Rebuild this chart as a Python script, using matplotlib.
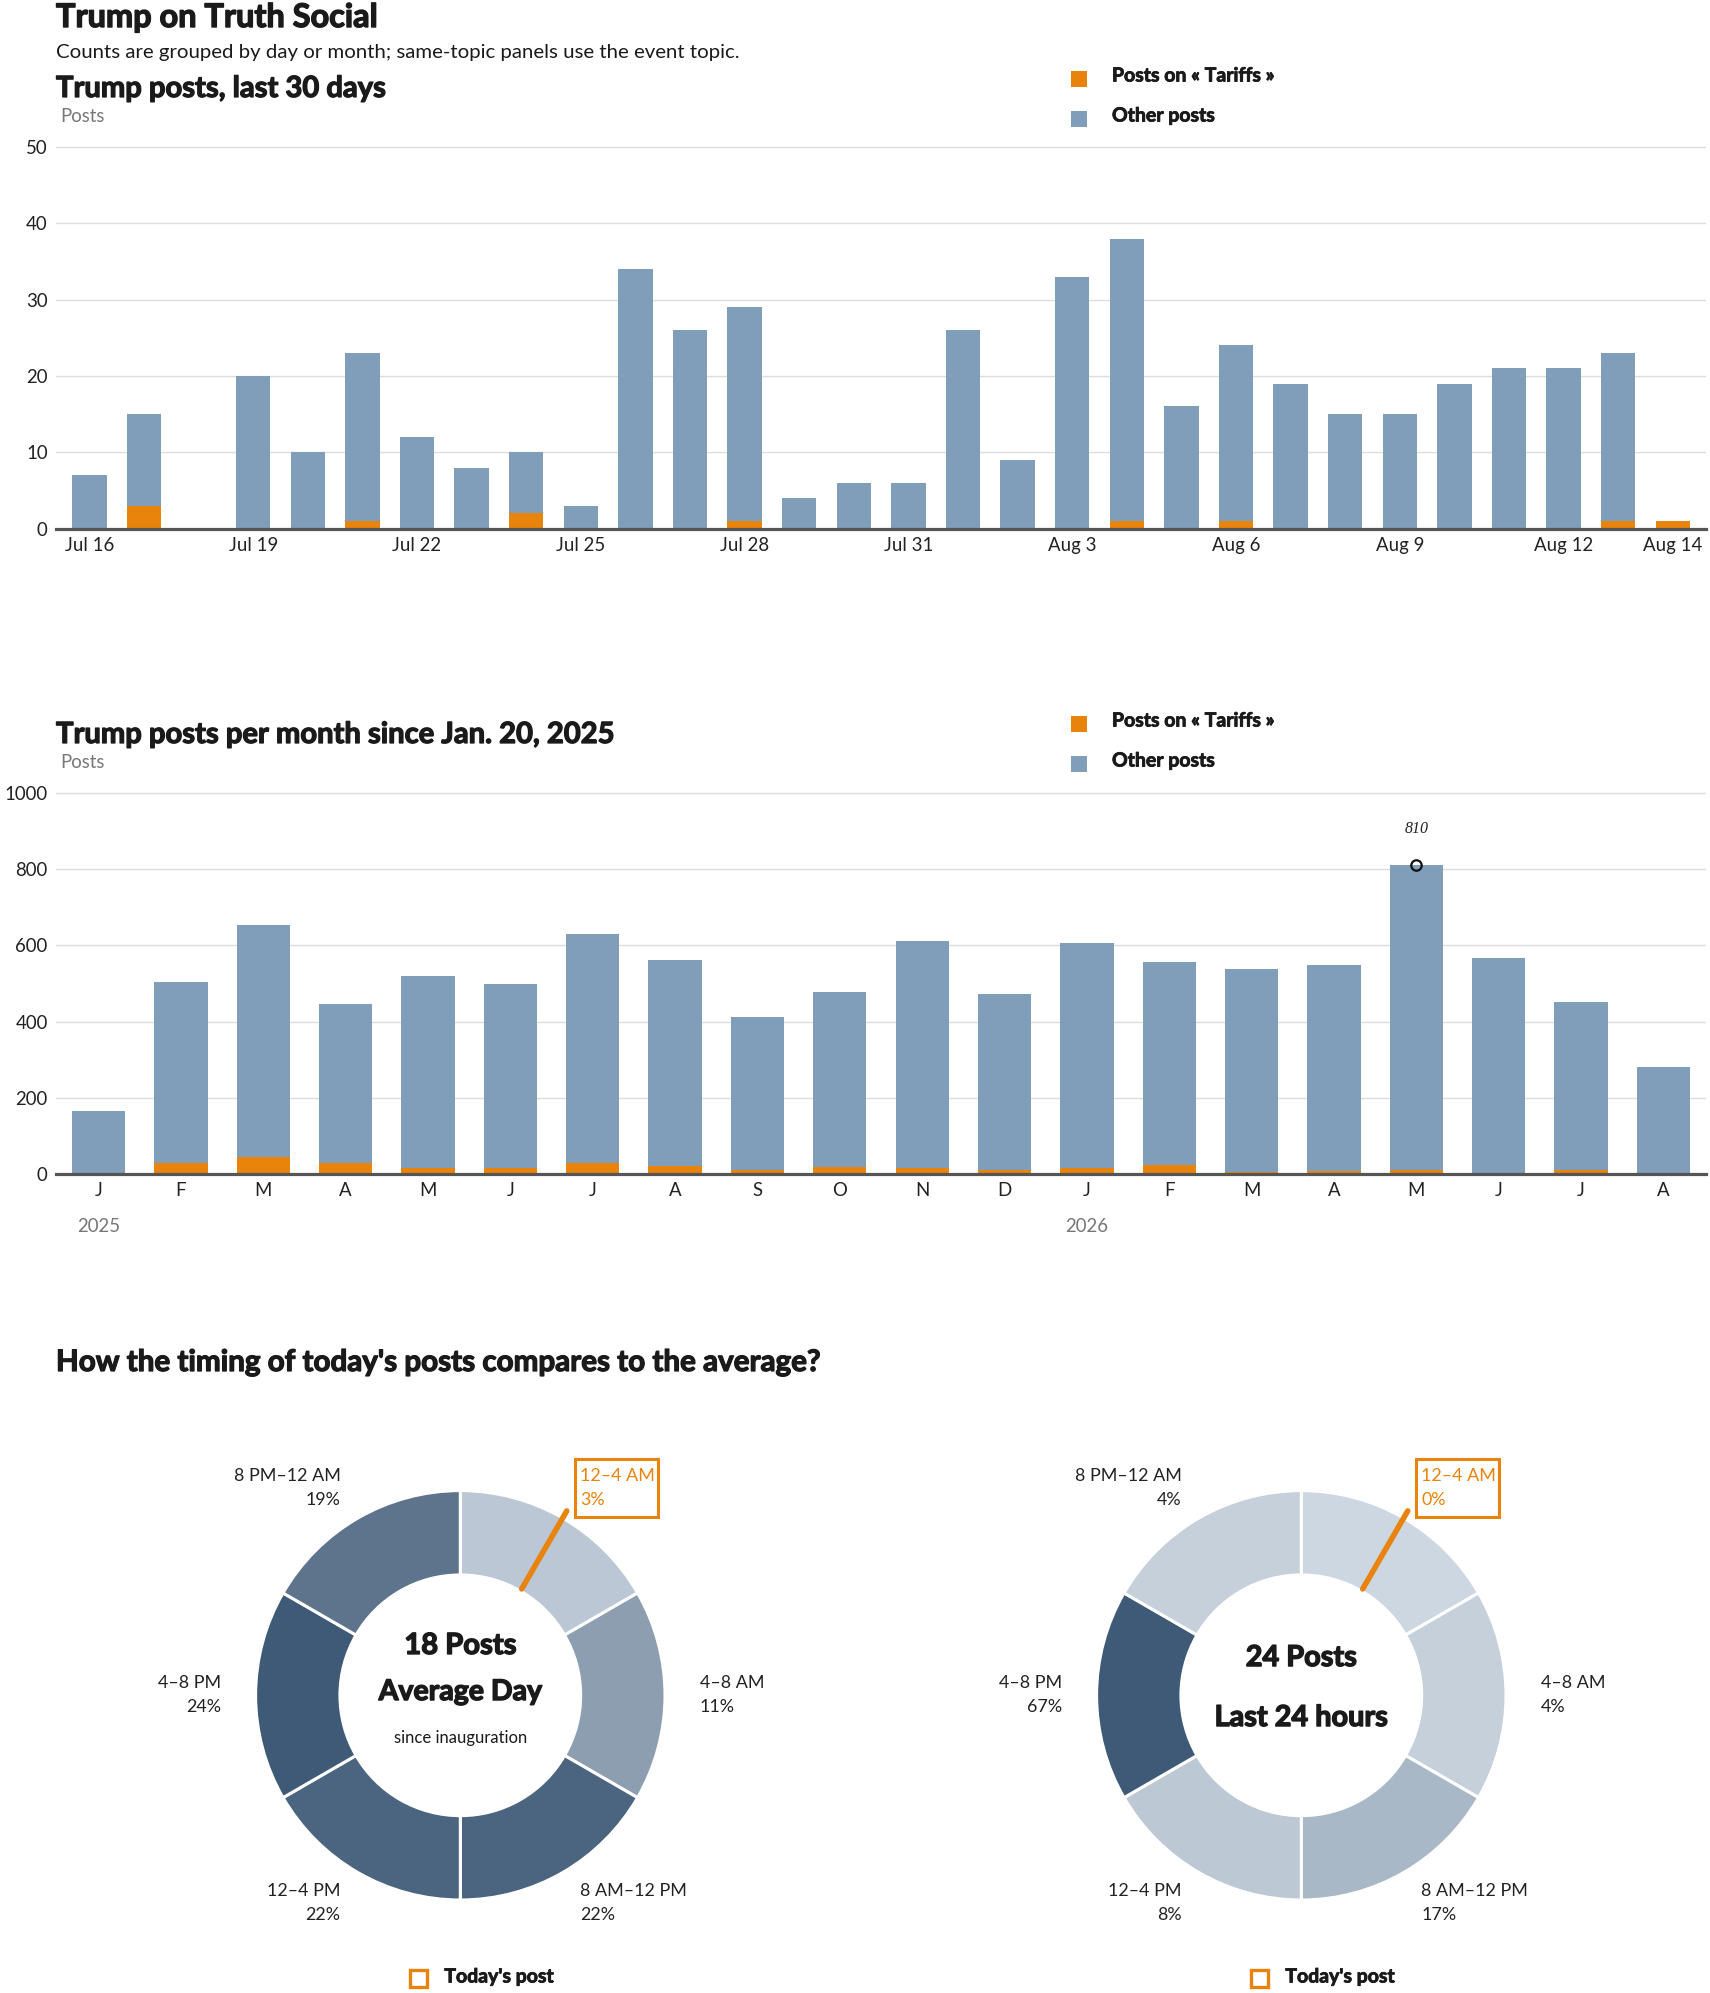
import numpy as np
import matplotlib
matplotlib.use("Agg")
import matplotlib.pyplot as plt
from matplotlib.patches import Rectangle
from matplotlib.colors import LinearSegmentedColormap, Normalize
import matplotlib.transforms as mtransforms
import matplotlib.patheffects as pe

plt.rcParams['font.family'] = ['Lato', 'DejaVu Sans']

# ---------------- data ----------------
day_labels = ['Jul 16', 'Jul 17', 'Jul 18', 'Jul 19', 'Jul 20', 'Jul 21', 'Jul 22', 'Jul 23',
              'Jul 24', 'Jul 25', 'Jul 26', 'Jul 27', 'Jul 28', 'Jul 29', 'Jul 30', 'Jul 31',
              'Aug 1', 'Aug 2', 'Aug 3', 'Aug 4', 'Aug 5', 'Aug 6', 'Aug 7', 'Aug 8',
              'Aug 9', 'Aug 10', 'Aug 11', 'Aug 12', 'Aug 13', 'Aug 14']
day_tariff = [0, 3, 0, 0, 0, 1, 0, 0, 2, 0, 0, 0, 1, 0, 0, 0,
              0, 0, 0, 1, 0, 1, 0, 0, 0, 0, 0, 0, 1, 1]
day_other = [7, 12, 0, 20, 10, 22, 12, 8, 8, 3, 34, 26, 28, 4, 6, 6,
             26, 9, 33, 37, 16, 23, 19, 15, 15, 19, 21, 21, 22, 0]
day_tick_labels = ['Jul 16', 'Jul 19', 'Jul 22', 'Jul 25', 'Jul 28', 'Jul 31',
                   'Aug 3', 'Aug 6', 'Aug 9', 'Aug 12', 'Aug 14']

month_labels = ['J', 'F', 'M', 'A', 'M', 'J', 'J', 'A', 'S', 'O', 'N', 'D',
                'J', 'F', 'M', 'A', 'M', 'J', 'J', 'A']
month_years = [2025] * 12 + [2026] * 8
month_tariff = [0, 30, 45, 30, 17, 17, 30, 21, 10, 19, 17, 10,
                17, 24, 6, 7, 10, 0, 10, 0]
month_total = [165, 504, 654, 447, 520, 499, 630, 562, 412, 477, 612, 473,
               607, 556, 538, 549, 810, 567, 451, 280]

time_bins = ['12–4 AM', '4–8 AM', '8 AM–12 PM', '12–4 PM', '4–8 PM', '8 PM–12 AM']
bin_hours = [4, 4, 4, 4, 4, 4]
avg_share = [3, 11, 22, 22, 24, 19]
today_share = [0, 4, 17, 8, 67, 4]
avg_posts = 18
last24_posts = 24
today_post_hour = 2.0

# ---------------- style ----------------
ORANGE = '#e8830c'
BLUE = '#809db9'
GRID = '#dcdcdc'
AXIS = '#555555'
TXT = '#1a1a1a'
GRAY = '#777777'


def heavy(color=TXT, w=0.8):
    return [pe.withStroke(linewidth=w, foreground=color)]


W, H = 1710, 1993
fig = plt.figure(figsize=(W / 100, H / 100), dpi=100)


def fx(x):
    return x / W


def fy(y):
    return 1 - y / H


def ftext(x, y, s, **kw):
    fig.text(fx(x), fy(y), s, **kw)


def legend(y_top):
    for i, (col, lab) in enumerate([(ORANGE, 'Posts on « Tariffs »'), (BLUE, 'Other posts')]):
        yt = y_top + 40 * i
        fig.add_artist(Rectangle((fx(1071), fy(yt + 16)), 16 / W, 16 / H,
                                 transform=fig.transFigure, color=col, lw=0))
        ftext(1112, yt + 5, lab, fontsize=14, fontweight='bold', color=TXT, va='center',
              path_effects=heavy(w=0.6))


def style_bar_axes(ax):
    for s in ['top', 'right', 'left']:
        ax.spines[s].set_visible(False)
    ax.spines['bottom'].set_color(AXIS)
    ax.spines['bottom'].set_linewidth(2.3)
    ax.spines['bottom'].set_zorder(5)
    ax.yaxis.grid(True, color=GRID, lw=1)
    ax.set_axisbelow(True)
    ax.tick_params(axis='both', length=0, labelsize=13.4, colors='#222222')
    ax.tick_params(axis='x', pad=6)
    ax.tick_params(axis='y', pad=6)


# ---------------- header ----------------
ftext(56, 27, 'Trump on Truth Social', fontsize=23.4, fontweight='bold', color=TXT, va='baseline',
      path_effects=heavy(w=1.0))
ftext(56, 58, 'Counts are grouped by day or month; same-topic panels use the event topic.',
      fontsize=14.7, color=TXT, va='baseline')

# ---------------- chart 1: last 30 days ----------------
ftext(56, 97, 'Trump posts, last 30 days', fontsize=21, fontweight='bold', color=TXT,
      va='baseline', path_effects=heavy(w=0.9))
ftext(60, 116.5, 'Posts', fontsize=13.4, color=GRAY, va='center')
legend(71)

zero1, top1, ymax1 = 528.6, 147.0, 50
ppu1 = (zero1 - top1) / ymax1
ylim1 = 52
ax1 = fig.add_axes([fx(56), fy(zero1), (1706 - 56) / W, ylim1 * ppu1 / H])
x1 = np.arange(len(day_labels))
ax1.bar(x1, day_tariff, width=0.63, color=ORANGE, lw=0)
ax1.bar(x1, day_other, bottom=day_tariff, width=0.63, color=BLUE, lw=0)
ax1.set_xlim(-0.613, len(day_labels) - 1 + 0.61)
ax1.set_ylim(0, ylim1)
ax1.set_yticks([0, 10, 20, 30, 40, 50])
tick_pos = [day_labels.index(t) for t in day_tick_labels]
ax1.set_xticks(tick_pos)
ax1.set_xticklabels(day_tick_labels)
style_bar_axes(ax1)

# ---------------- chart 2: per month ----------------
ftext(56, 743, 'Trump posts per month since Jan. 20, 2025', fontsize=21, fontweight='bold',
      color=TXT, va='baseline', path_effects=heavy(w=0.9))
ftext(60, 762.5, 'Posts', fontsize=13.4, color=GRAY, va='center')
legend(716)

zero2, top2, ymax2 = 1174.0, 793.0, 1000
ppu2 = (zero2 - top2) / ymax2
ylim2 = 1040
ax2 = fig.add_axes([fx(56), fy(zero2), (1706 - 56) / W, ylim2 * ppu2 / H])
x2 = np.arange(len(month_labels))
month_other = [t - o for t, o in zip(month_total, month_tariff)]
ax2.bar(x2, month_tariff, width=0.646, color=ORANGE, lw=0)
ax2.bar(x2, month_other, bottom=month_tariff, width=0.646, color=BLUE, lw=0)
ax2.set_xlim(-0.517, len(month_labels) - 1 + 0.517)
ax2.set_ylim(0, ylim2)
ax2.set_yticks([0, 200, 400, 600, 800, 1000])
ax2.set_xticks(x2)
ax2.set_xticklabels(month_labels)
style_bar_axes(ax2)

imax = int(np.argmax(month_total))
ax2.plot([imax], [month_total[imax]], marker='o', ms=7.5, mfc='none', mec='#111111', mew=1.6,
         zorder=6, clip_on=False)
ax2.annotate(str(month_total[imax]), (imax, month_total[imax]), xytext=(0, 26),
             textcoords='offset points', ha='center', va='center', fontsize=11.5,
             fontstyle='italic', color='#222222',
             family=['Liberation Serif', 'DejaVu Serif'])

btrans = mtransforms.blended_transform_factory(ax2.transData, fig.transFigure)
for yr in sorted(set(month_years)):
    i0 = month_years.index(yr)
    ax2.text(i0, fy(1227), str(yr), transform=btrans, ha='center', va='center',
             fontsize=13.4, color=GRAY)

# ---------------- chart 3: donuts ----------------
ftext(56, 1371, "How the timing of today's posts compares to the average?", fontsize=21.3,
      fontweight='bold', color=TXT, va='baseline', path_effects=heavy(w=0.9))

cmap = LinearSegmentedColormap.from_list('blues', ['#cdd7e1', '#3f5a76'])
R = 204.7
S = 295.0
hole = 0.588
today_bin = int(today_post_hour // 4)


def donut(cx, cy, shares, center_lines):
    ax = fig.add_axes([fx(cx - S), fy(cy + S), 2 * S / W, 2 * S / H])
    norm = Normalize(0, max(shares))
    cols = cmap(norm(np.array(shares, dtype=float)))
    ax.pie(bin_hours, radius=1, startangle=90, counterclock=False, colors=cols,
           wedgeprops=dict(width=1 - hole, edgecolor='white', linewidth=2.2))
    ax.set_xlim(-S / R, S / R)
    ax.set_ylim(-S / R, S / R)
    ax.set_aspect('equal')
    ax.axis('off')

    # labels
    total_h = sum(bin_hours)
    start = 0
    for i, (lab, sh) in enumerate(zip(time_bins, shares)):
        mid = start + bin_hours[i] / 2
        start += bin_hours[i]
        th = np.deg2rad(90 - mid / total_h * 360)
        ax_x, ax_y = 1.17 * np.cos(th), 1.17 * np.sin(th)
        ha = 'left' if ax_x > 0.01 else 'right'
        col = ORANGE if i == today_bin else '#222222'
        ax.text(ax_x, ax_y + 0.0586, lab, ha=ha, va='center', fontsize=12.9, color=col)
        ax.text(ax_x, ax_y - 0.0586, f'{sh}%', ha=ha, va='center', fontsize=12.9, color=col)
        if i == today_bin:
            ax.add_patch(Rectangle((ax_x - 0.026, ax_y - 0.141), 0.405, 0.283, fill=False,
                                   ec=ORANGE, lw=2.2, clip_on=False))

    # today's post marker
    tp = np.deg2rad(90 - today_post_hour / total_h * 360)
    ax.plot([0.6 * np.cos(tp), 1.04 * np.cos(tp)], [0.6 * np.sin(tp), 1.04 * np.sin(tp)],
            color=ORANGE, lw=4, solid_capstyle='round', zorder=5, clip_on=False)

    # center text
    for (txt, dy, fs, fw) in center_lines:
        if fw == 'heavy':
            ax.text(0, dy, txt, ha='center', va='center', fontsize=fs, fontweight='bold',
                    color=TXT, path_effects=heavy(w=1.0))
        else:
            ax.text(0, dy, txt, ha='center', va='center', fontsize=fs, color=TXT)

    # legend
    ax.add_patch(Rectangle((-0.2018 - 0.0415, -1.385 - 0.0415), 0.083, 0.083, fill=False,
                           ec=ORANGE, lw=2.4, clip_on=False))
    ax.text(-0.078, -1.376, "Today's post", ha='left', va='center', fontsize=14,
            fontweight='bold', color=TXT, path_effects=heavy(w=0.6))
    return ax


donut(460.3, 1695.3, avg_share,
      [(f'{avg_posts} Posts', 0.241, 21, 'heavy'),
       ('Average Day', 0.016, 20.5, 'heavy'),
       ('since inauguration', -0.209, 12, 'normal')])
donut(1301.3, 1695.3, today_share,
      [(f'{last24_posts} Posts', 0.182, 20.8, 'heavy'),
       ('Last 24 hours', -0.111, 20.8, 'heavy')])

fig.savefig('out.png', dpi=100, facecolor='white')
